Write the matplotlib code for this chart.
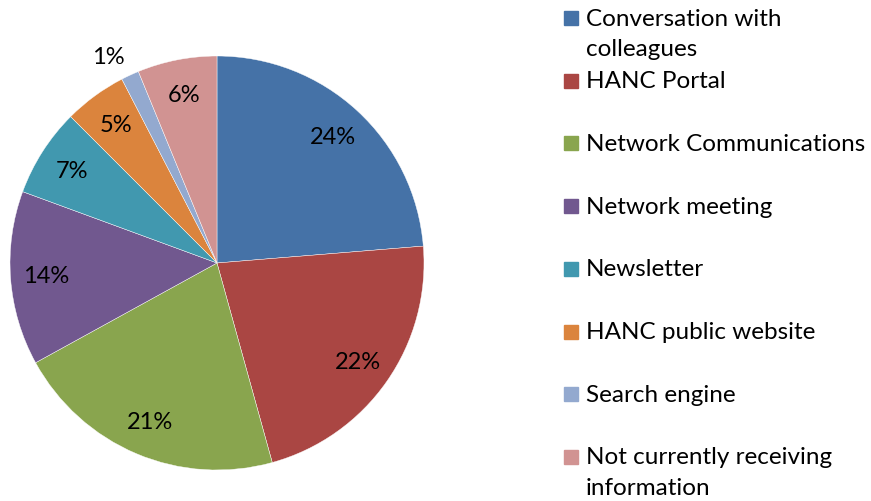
import matplotlib.pyplot as plt
from matplotlib.patches import Rectangle

# Data
labels = ['Conversation with\ncolleagues', 'HANC Portal', 'Network Communications',
          'Network meeting', 'Newsletter', 'HANC public website', 'Search engine',
          'Not currently receiving\ninformation']
shares = [23.7, 22.0, 21.3, 13.6, 6.9, 4.9, 1.4, 6.2]
colors = ['#4572A7', '#AA4643', '#89A54E', '#71588F', '#4198AF', '#DB843D',
          '#93A9CF', '#D19392']

plt.rcParams['font.family'] = ['Lato', 'DejaVu Sans']

W, H = 871, 502
fig = plt.figure(figsize=(W / 100, H / 100), dpi=100)

# pie: centre (217, 264) px, radius 207 px
cx, cy, r = 217, 264, 207
ax = fig.add_axes([(cx - r) / W, (H - cy - r) / H, 2 * r / W, 2 * r / H])
wedges, texts, autotexts = ax.pie(
    shares, colors=colors, startangle=90, counterclock=False,
    autopct=lambda p: '%d%%' % round(p), pctdistance=0.83,
    wedgeprops=dict(edgecolor='white', linewidth=0.3),
    textprops=dict(fontsize=17, color='black'))
# small slice label sits outside
autotexts[6].set_position((-109 / r, 206 / r))
ax.set_xlim(-1, 1)
ax.set_ylim(-1, 1)
ax.set_aspect('equal')

# legend drawn by hand to keep Excel spacing
y0, step, line_h = 19, 62.7, 31
for i, (lab, col) in enumerate(zip(labels, colors)):
    y = y0 + i * step
    fig.patches.append(Rectangle((564 / W, (H - y - 7) / H), 14 / W, 14 / H,
                                 transform=fig.transFigure, color=col))
    for j, line in enumerate(lab.split('\n')):
        fig.text(586 / W, (H - y - j * line_h) / H, line, fontsize=17.5,
                 va='center', ha='left')

fig.savefig('out.png', dpi=100)
